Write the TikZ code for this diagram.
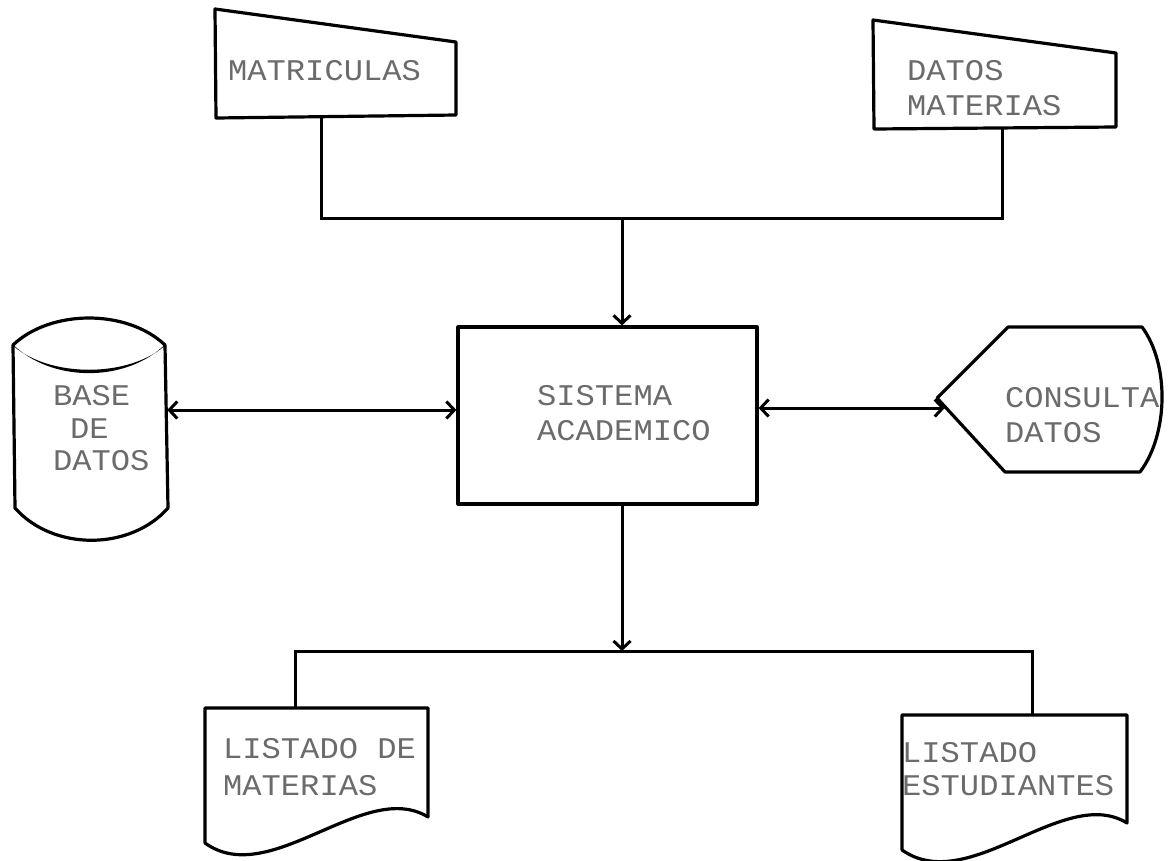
\documentclass[tikz,border=0pt]{standalone}
\usepackage{fontspec}
\newfontfamily\dm[FakeStretch=1.07]{Liberation Mono}
\usetikzlibrary{arrows.meta}
\definecolor{txtgray}{gray}{0.42}
\begin{document}
\begin{tikzpicture}[x=1pt,y=-1pt]
\tikzset{
  shp/.style={draw=black, line width=3.2pt, line join=round, line cap=round},
  conn/.style={draw=black, line width=3pt},
  arr/.style={conn, -{Straight Barb[length=8pt,width=17pt]}},
  darr/.style={conn, {Straight Barb[length=8pt,width=17pt]}-{Straight Barb[length=8pt,width=17pt]}},
  box/.style={draw=none, inner sep=0pt, rectangle},
  lbl/.style={font=\dm\fontsize{30}{35}\selectfont, text=txtgray, anchor=base west, inner sep=0pt}}
\path[use as bounding box] (0,0) rectangle (1172,860);

% invisible frames of the shapes
\node[box, minimum width=241pt, minimum height=109pt] (mat) at (335.5,63.5) {};
\node[box, minimum width=243pt, minimum height=109pt] (dm) at (994.5,74.5) {};
\node[box, minimum width=154pt, minimum height=222pt] (db) at (90,429) {};
\node[shp, minimum width=299pt, minimum height=177pt, inner sep=0pt] (sis) at (607.5,415.5) {};
\node[box, minimum width=228pt, minimum height=145pt] (disp) at (1051,399.5) {};
\node[box, minimum width=223pt, minimum height=150pt] (ldoc) at (316.5,783) {};
\node[box, minimum width=225pt, minimum height=150pt] (rdoc) at (1014.5,790) {};

% manual input shapes
\path[shp] (215,9) -- (216,118) -- (456,115) -- (456,42) -- cycle;
\path[shp] (873,20) -- (874,129) -- (1116,127) -- (1116,53) -- cycle;

% cylinder
\path[shp] (13,345) .. controls (51,309) and (127,309) .. (165,345);
\fill[black] (12,343.5) .. controls (51,383) and (127,383) .. (166,343.5)
  -- (164,346.5) .. controls (127,377.5) and (51,377.5) .. (14,346.5) -- cycle;
\path[shp] (13,345) -- (15,508) .. controls (53,551) and (130,551) .. (168,508) -- (165,345);

% display
\path[shp] (937,398) -- (1008,327) -- (1142,327)
  .. controls (1170,365) and (1168,435) .. (1140,472)
  -- (1005,472) -- cycle;

% documents
\begin{scope}
\clip (0,0) rectangle (1172,860);
\path[shp] (205,843) -- (205,708) -- (428,708) -- (428,817)
  .. controls (365,778) and (270,890) .. (205,843);
\path[shp] (902,850) -- (902,715) -- (1127,715) -- (1127,823)
  .. controls (1064,784) and (969,897) .. (902,850);
\end{scope}

% connectors
\coordinate (j1) at (321,218);
\coordinate (j2) at (1002,218);
\coordinate (tj) at (622,218);
\path[conn] (mat.south -| j1) -- (j1) -- (j2) -- (dm.south -| j2);
\path[arr] (tj) -- (tj |- sis.north);
\path[darr] (db.east |- 0,410) -- (sis.west |- 0,410);
\path[darr] (sis.east |- 0,408) -- ([xshift=8pt]disp.west |- 0,408);
\coordinate (bj) at (622,651);
\coordinate (b1) at (295,651);
\coordinate (b2) at (1032,651);
\path[arr] (sis.south -| bj) -- (bj);
\path[conn] (ldoc.north -| b1) -- (b1) -- (b2) -- (rdoc.north -| b2);

% labels
\node[lbl] (t1) at (228,80) {MATRICULAS};
\node[lbl] (t2) at (907,80) {DATOS};
\node[lbl] (t3) at (907,115) {MATERIAS};
\node[lbl] (t4) at (53,405) {BASE};
\node[lbl] (t5) at (70,438) {DE};
\node[lbl] (t6) at (53,470) {DATOS};
\node[lbl] (t7) at (537,405) {SISTEMA};
\node[lbl] (t8) at (537,440) {ACADEMICO};
\node[lbl] (t9) at (1005,407) {CONSULTA};
\node[lbl] (t10) at (1005,442) {DATOS};
\node[lbl] (t11) at (223,758) {LISTADO DE};
\node[lbl] (t12) at (223,795) {MATERIAS};
\node[lbl] (t13) at (902,762) {LISTADO};
\node[lbl] (t14) at (902,795) {ESTUDIANTES};
\end{tikzpicture}
\end{document}
